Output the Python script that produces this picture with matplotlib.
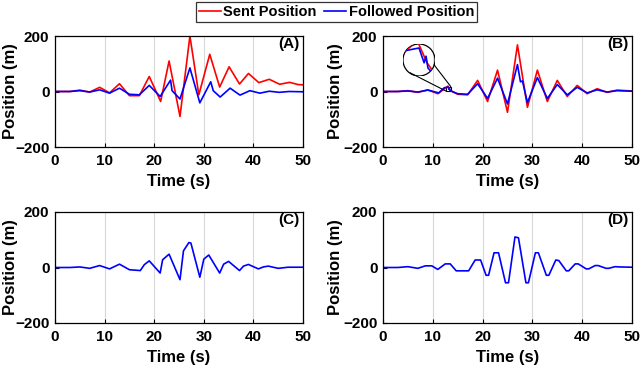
"""Sent vs. followed position traces, four panels (A)-(D)."""

import matplotlib
matplotlib.use("Agg")
import matplotlib.pyplot as plt
from matplotlib.patches import Circle, Rectangle, ConnectionPatch

plt.rcParams["font.family"] = ["Liberation Sans", "DejaVu Sans"]
plt.rcParams["font.weight"] = "bold"

# (A) sent / followed
A_sent_t = [0, 3, 5, 7, 9, 11, 13, 15, 17, 19, 21.3, 23, 25.2, 27.2, 29, 31.2,
            33.2, 35.1, 37.2, 39, 41.1, 43.2, 45.3, 47.3, 49, 50]
A_sent_y = [0, 0, 5, -2, 15, -5, 28, -15, -15, 54, -36, 110, -90, 200, -12, 134,
            16, 89, 27, 65, 32, 44, 26, 33, 25, 24]
A_follow_t = [0, 3, 5, 7, 9, 11, 13, 15, 17, 19, 21.2, 23.3, 23.6, 25.2, 27.2,
              29.2, 31.4, 31.9, 33.3, 35.3, 37.3, 39.3, 41.3, 43.2, 45.2, 47.2, 50]
A_follow_y = [0, 0, 3, -2, 6, -6, 12, -10, -12, 22, -18, 41, 3, -27, 85,
              -41, 35, 3, -20, 12, -13, 3, -6, 1, -3, 0, -1]

# (B) sent / followed
B_sent_t = [0, 3, 5, 7, 9, 11, 13.05, 13.35, 13.6, 15, 17, 19, 21, 23, 25, 27,
            29, 31, 33, 35, 37, 39, 41, 43, 45, 47, 50]
B_sent_y = [0, 0, 3, -3, 6, -8, 19.5, 8.6, 3, -10, -12, 40, -36, 77, -75, 168,
            -57, 77, -36, 40, -18, 22, -8, 10, -3, 5, 2]
B_follow_t = [0, 3, 5, 7, 9, 11.2, 12.3, 13.1, 13.26, 13.32, 13.38, 13.6, 15, 17,
              19, 21, 23, 25, 27, 27.6, 28, 29, 31, 33, 35, 37, 39, 41, 43, 45,
              47, 50]
B_follow_y = [0, 0, 2, -2, 5, -5, 13.5, 16, 8.6, 11.9, 6, 2, -8, -10,
              28, -25, 48, -45, 97, 35, 38, -40, 50, -25, 25, -12, 15, -5, 6, -2,
              3, 1]

# (C) followed
C_t = [0, 3, 5, 7, 9, 11, 13, 15, 17.2, 18, 19, 21.2, 21.7, 23, 25.2, 25.9, 27,
       27.4, 29.2, 30, 31, 33.2, 34, 35, 37.2, 38, 39, 41, 42, 43, 45, 47, 50]
C_y = [0, 0, 2, -3, 7, -5, 12, -8, -11, 10, 24, -20, 28, 48, -44, 60, 90,
       88, -35, 30, 45, -20, 12, 22, -11, 5, 11, -5, 2, 5, -3, 1, 1]

# (D) followed
D_t = [0, 3, 5, 7, 8.5, 9.8, 11, 12.5, 13.5, 14.7, 17.2, 18.5, 19.6, 20.7, 21.2,
       22.3, 23.2, 24.6, 25.2, 26.5, 27.2, 28.7, 29.2, 30.6, 31.2, 32.8, 33.3,
       34.7, 35.3, 36.8, 37.3, 38.6, 39.2, 40.8, 41.3, 42.6, 43.2, 44.8, 45.3,
       46.6, 47.5, 50]
D_y = [0, 0, 3, -3, 6, 6, -7, 13, 13, -12, -12, 27, 27, -28, -28,
       53, 53, -55, -55, 110, 107, -55, -55, 53, 53, -28, -28,
       27, 25, -12, -12, 13, 13, -5, -5, 7, 7, -3, -3,
       3, 2, 1]

# zoom window shown in the (B) inset
ZOOM_X = (12.6, 13.6)
ZOOM_Y = (2, 18)

RED = (1, 0, 0)
BLUE = (0, 0, 1)
LW = 1.2

fig = plt.figure(figsize=(6.4, 3.69), dpi=100)

W, H = 640, 369
def px_axes(left, top, right, bottom):
    return fig.add_axes([left / W, 1 - bottom / H, (right - left) / W, (bottom - top) / H])

axA = px_axes(55, 36, 303, 147)
axB = px_axes(383, 36, 632, 147)
axC = px_axes(55, 212, 303, 323)
axD = px_axes(383, 212, 632, 323)

hs, = axA.plot(A_sent_t, A_sent_y, color=RED, lw=LW)
hf, = axA.plot(A_follow_t, A_follow_y, color=BLUE, lw=LW)
axB.plot(B_sent_t, B_sent_y, color=RED, lw=LW)
axB.plot(B_follow_t, B_follow_y, color=BLUE, lw=LW)
axC.plot(C_t, C_y, color=BLUE, lw=LW)
axD.plot(D_t, D_y, color=BLUE, lw=LW)

for ax, tag, ylx in zip([axA, axB, axC, axD], ["(A)", "(B)", "(C)", "(D)"],
                        [-0.178, -0.19, -0.178, -0.19]):
    ax.set_xlim(0, 50)
    ax.set_ylim(-200, 200)
    ax.set_xticks([0, 10, 20, 30, 40, 50])
    ax.set_yticks([-200, 0, 200])
    ax.tick_params(direction="in", length=3, labelsize=11)
    ax.tick_params(axis="x", pad=5)
    ax.tick_params(axis="y", pad=4)
    for lab in ax.get_xticklabels() + ax.get_yticklabels():
        lab.set_fontweight("bold")
    ax.grid(axis="x", color="#d9d9d9", lw=0.8)
    ax.set_axisbelow(True)
    for s in ax.spines.values():
        s.set_linewidth(0.9)
    ax.set_xlabel("Time (s)", fontsize=12, fontweight="bold", va="center")
    ax.set_ylabel("Position (m)", fontsize=12, fontweight="bold", va="center")
    ax.xaxis.set_label_coords(0.5, -0.31)
    ax.yaxis.set_label_coords(ylx, 0.5)
    ax.text(0.985, 0.925, tag, transform=ax.transAxes, ha="right", va="center",
            fontsize=11, fontweight="bold")

# magnified circle inset in (B)
axZ = px_axes(403, 44, 435, 76)
axZ.plot(B_sent_t, B_sent_y, color=RED, lw=LW)
axZ.plot(B_follow_t, B_follow_y, color=BLUE, lw=LW)
axZ.set_xlim(*ZOOM_X)
axZ.set_ylim(*ZOOM_Y)
axZ.axis("off")
circ = Circle((0.5, 0.5), 0.5, transform=axZ.transAxes, facecolor="none",
              edgecolor="black", lw=0.9)
axZ.add_patch(circ)
for ln in axZ.lines:
    ln.set_clip_path(circ)

axB.add_patch(Rectangle((ZOOM_X[0], ZOOM_Y[0]), ZOOM_X[1] - ZOOM_X[0],
                        ZOOM_Y[1] - ZOOM_Y[0], facecolor="none",
                        edgecolor="black", lw=0.8))
for a_pt, b_pt in [((0.22, 0.1), (ZOOM_X[0], ZOOM_Y[0])),
                   ((0.97, 0.35), (ZOOM_X[1], ZOOM_Y[1]))]:
    fig.add_artist(ConnectionPatch(xyA=a_pt, coordsA=axZ.transAxes,
                                   xyB=b_pt, coordsB=axB.transData,
                                   color="black", lw=0.8))

leg = fig.legend([hs, hf], ["Sent Position", "Followed Position"],
                 loc="upper center", bbox_to_anchor=(336.5 / W, 1 - 2 / H),
                 ncol=2, prop={"size": 10.5, "weight": "bold"},
                 frameon=True, fancybox=False,
                 borderpad=0.2, handlelength=1.5, handletextpad=0.2,
                 columnspacing=0.5, borderaxespad=0)
leg.get_frame().set_edgecolor("black")
leg.get_frame().set_linewidth(0.9)

fig.savefig("out.png", dpi=100)
